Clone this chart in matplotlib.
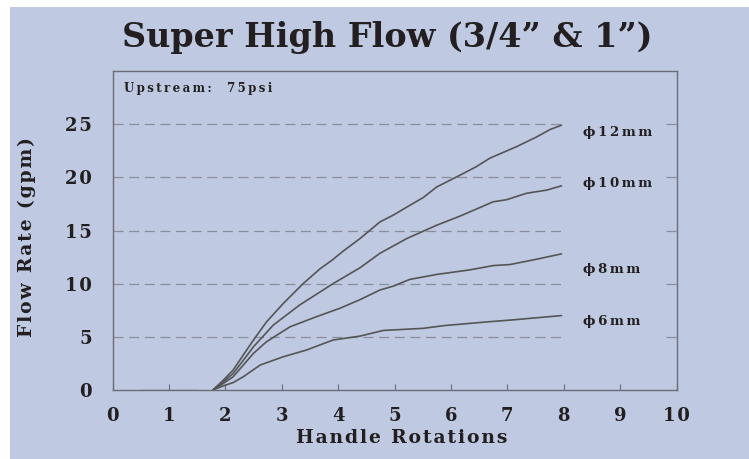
#-----------------------------------------------------------------------
#---- plot.py : Super High Flow (3/4" & 1") - debit vs rotations
#-----------------------------------------------------------------------

import matplotlib
matplotlib.use("Agg")
import matplotlib.pyplot as plt
from matplotlib.patches import Rectangle


#---- Donnees
x_ticks = [0, 1, 2, 3, 4, 5, 6, 7, 8, 9, 10]
y_ticks = [0, 5, 10, 15, 20, 25]

flat_x = [0.5, 1.5]
flat_y = [0, 0]

x_12 = [1.78, 1.96, 2.14, 2.32, 2.5, 2.73, 3.03, 3.38, 3.68, 3.89, 4.1, 4.39,
        4.74, 4.98, 5.25, 5.51, 5.75, 6.16, 6.45, 6.69, 7.17, 7.52, 7.76, 7.96]
y_12 = [0, 0.9, 1.88, 3.3, 4.7, 6.4, 8.15, 10.0, 11.4, 12.2, 13.1, 14.25,
        15.8, 16.45, 17.3, 18.1, 19.1, 20.2, 21.0, 21.8, 22.9, 23.8, 24.5, 24.9]

x_10 = [1.78, 1.96, 2.14, 2.32, 2.5, 2.85, 3.32, 3.91, 4.39, 4.74, 5.22,
        5.75, 6.16, 6.75, 6.99, 7.34, 7.70, 7.96]
y_10 = [0, 0.75, 1.56, 2.8, 4.07, 6.1, 8.0, 10.0, 11.5, 12.85, 14.25,
        15.5, 16.35, 17.7, 17.9, 18.5, 18.8, 19.2]

x_8 = [1.78, 1.96, 2.14, 2.5, 2.73, 3.15, 3.62, 4.03, 4.39, 4.74, 4.98,
       5.27, 5.75, 6.34, 6.75, 7.05, 7.52, 7.96]
y_8 = [0, 0.6, 1.25, 3.45, 4.54, 5.95, 6.9, 7.68, 8.5, 9.4, 9.77,
       10.4, 10.87, 11.3, 11.7, 11.8, 12.3, 12.8]

x_6 = [1.78, 1.96, 2.14, 2.32, 2.62, 3.03, 3.44, 3.91, 4.39, 4.80, 5.51,
       5.87, 6.63, 7.11, 7.96]
y_6 = [0, 0.38, 0.7, 1.25, 2.35, 3.13, 3.76, 4.7, 5.07, 5.6, 5.8,
       6.05, 6.4, 6.6, 7.0]

labels = ["\u03d512mm", "\u03d510mm", "\u03d58mm", "\u03d56mm"]
label_y = [24.2, 19.45, 11.3, 6.4]


#---- Style
BG = "#bfc9e1"
TXT = "#231f20"
LINE = "#555555"
GRID = "#8a8e9c"
SPINE = "#6a6d78"

THIN = "\u2009"
HAIR = "\u200a"


#-----------------------------------------------------------------------
#---- Espacement des lettres
#-----------------------------------------------------------------------
def espace(txt, sep=THIN):
    return sep.join(txt)


#-----------------------------------------------------------------------
#---- Main script
#-----------------------------------------------------------------------
def main():

    plt.rcParams["font.family"] = ["DejaVu Serif", "DejaVu Sans"]

    fig = plt.figure(figsize=(7.49, 4.59), dpi=100, facecolor="white")

    #---- Fond bleu
    fig.patches.append(Rectangle((10 / 749, 0), 1 - 10 / 749, 1 - 7 / 459,
                                 transform=fig.transFigure, facecolor=BG,
                                 edgecolor="none", zorder=-10))

    ax = fig.add_axes([112.5 / 749, 69 / 459, 564 / 749, 319 / 459])
    ax.set_zorder(1)
    ax.set_facecolor(BG)
    ax.set_xlim(0, 10)
    ax.set_ylim(0, 30)

    #---- Grille pointillee (interrompue derriere les etiquettes)
    dash = (0, (8, 4.5))
    ax.hlines(y_ticks[1:], 0, 8, colors=GRID, linewidth=0.9, linestyles=[dash])
    ax.hlines(y_ticks[1:], 9.82, 10, colors=GRID, linewidth=0.9, linestyles=[dash])

    #---- Courbes
    ax.plot(flat_x, flat_y, color="#7d808a", linewidth=1.0)
    for xs, ys in [(x_12, y_12), (x_10, y_10), (x_8, y_8), (x_6, y_6)]:
        ax.plot(xs, ys, color=LINE, linewidth=1.2, solid_capstyle="round")

    for lab, ly in zip(labels, label_y):
        ax.text(8.34, ly, espace(lab, THIN), fontsize=9.5, fontweight="bold",
                color=TXT, va="center", ha="left")

    ax.text(0.02, 0.945, espace("Upstream:  75psi"), transform=ax.transAxes,
            fontsize=8.5, fontweight="bold", color=TXT, va="center", ha="left")

    #---- Axes
    for sp in ax.spines.values():
        sp.set_color(SPINE)
        sp.set_linewidth(1.0)

    ax.set_xticks(x_ticks)
    ax.set_xticklabels([espace(str(v), HAIR) for v in x_ticks])
    ax.set_yticks(y_ticks)
    ax.set_yticklabels([espace(str(v), HAIR) for v in y_ticks])
    ax.tick_params(axis="x", direction="in", length=4, width=0.8, color=SPINE,
                   pad=12, labelsize=13, labelcolor=TXT)
    ax.tick_params(axis="y", length=0, pad=15, labelsize=13, labelcolor=TXT)
    for lb in ax.get_xticklabels() + ax.get_yticklabels():
        lb.set_fontweight("bold")

    ax.set_xlabel(espace("Handle Rotations", HAIR), fontsize=13.5,
                  fontweight="bold", color=TXT)
    ax.set_ylabel(espace("Flow Rate (gpm)", HAIR), fontsize=13.5,
                  fontweight="bold", color=TXT)
    ax.xaxis.set_label_coords(0.513, -0.122)
    ax.yaxis.set_label_coords(-0.136, 0.48)

    fig.text(387 / 749, 1 - 38 / 459, "Super High Flow (3/4\u201d & 1\u201d)",
             fontsize=24, fontweight="bold", color=TXT, ha="center", va="center")

    fig.savefig("out.png", dpi=100, facecolor=fig.get_facecolor())


#-----------------------------------------------------------------------
if __name__ == "__main__":
    main()
